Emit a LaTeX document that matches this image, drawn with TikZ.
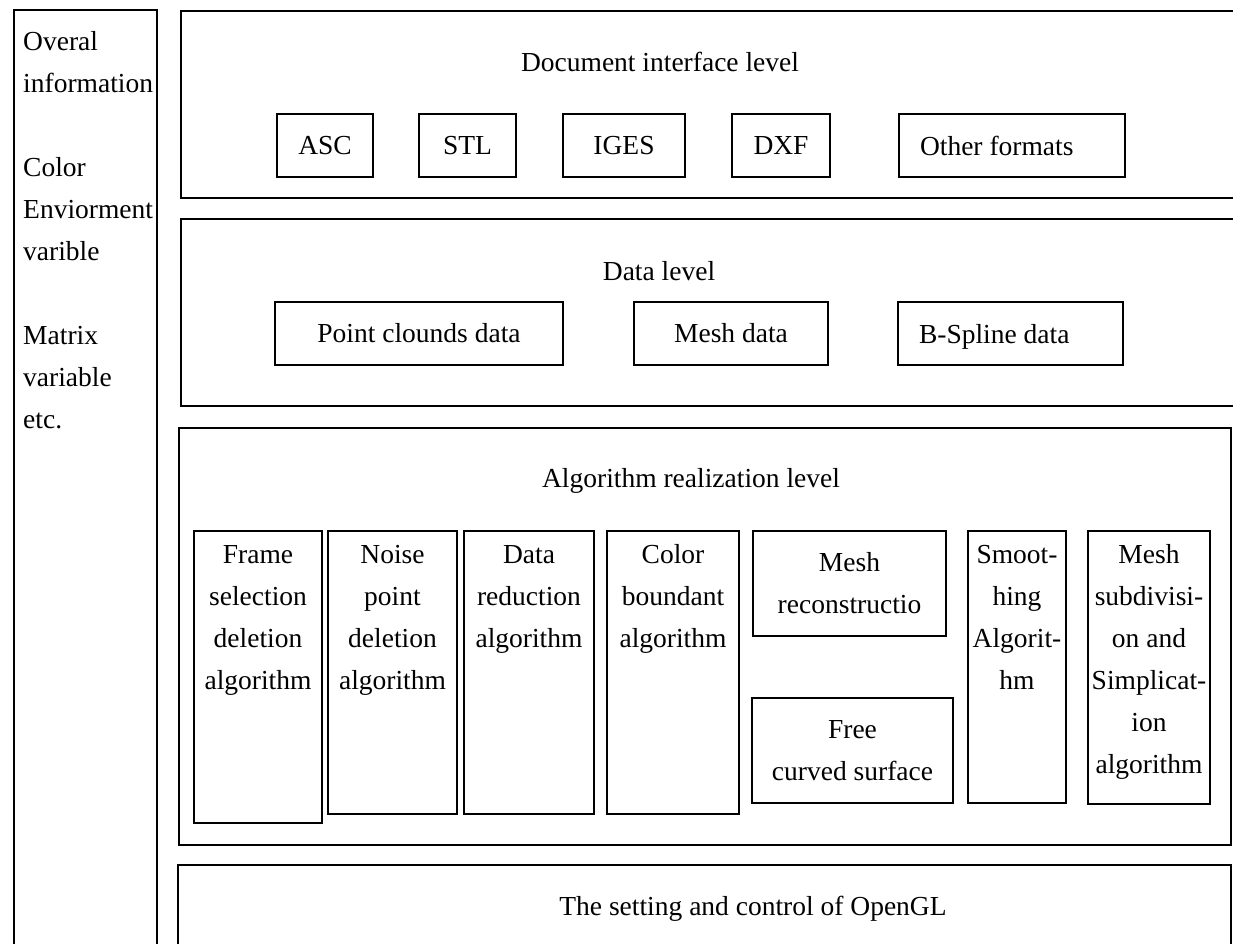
\documentclass[tikz,border=0pt]{standalone}
\usepackage{fontspec}
\setmainfont{Liberation Serif}
\newcommand{\fstrut}{\rule{0pt}{20pt}}
\begin{document}
\begin{tikzpicture}[x=1pt,y=-1pt,
  every node/.style={font=\fontsize{27.5}{42}\selectfont},
  frame/.style={draw, line width=2pt},
  fbox/.style={draw, line width=2pt, inner sep=0pt, align=center},
  txt/.style={inner sep=0pt, align=center},
  toptxt/.style={inner sep=0pt, align=center, anchor=north}]
\useasboundingbox (0,0) rectangle (1233,944);
\fill[white] (0,0) rectangle (1233,944);
\clip (0,0) rectangle (1233,944);

% left column
\draw[frame] (14,10) rectangle (157,970);
\node[toptxt, align=left, anchor=north west] (info) at (23,30)
  {\fstrut Overal\\information\\[42pt]Color\\Enviorment\\varible\\[42pt]Matrix\\variable\\etc.};

% document interface level
\draw[frame] (181,11) rectangle (1250,198);
\node[txt, anchor=base] (doc) at (660,72) {Document interface level};
\node[fbox, minimum width=96, minimum height=63] (asc) at (325,145.5) {ASC};
\node[fbox, minimum width=97, minimum height=63] (stl) at (467.5,145.5) {STL};
\node[fbox, minimum width=122, minimum height=63] (iges) at (624,145.5) {IGES};
\node[fbox, minimum width=98, minimum height=63] (dxf) at (781,145.5) {DXF};
\node[fbox, inner xsep=21, minimum height=63] (other) at (1012,145.5) {\makebox[184pt][l]{Other formats}};

% data level
\draw[frame] (181,219) rectangle (1250,406);
\node[txt, anchor=base] (data) at (659,280) {Data level};
\node[fbox, minimum width=288, minimum height=63] (pcd) at (419,333.5) {Point clounds data};
\node[fbox, minimum width=194, minimum height=63] (mesh) at (731,333.5) {Mesh data};
\node[fbox, inner xsep=21, minimum height=63, text depth=0pt] (bsp) at (1010.5,333.5) {\makebox[183pt][l]{B-Spline data}};

% algorithm realization level
\draw[frame] (179,428) rectangle (1231,845);
\node[txt, anchor=base] (alg) at (691,487) {Algorithm realization level};
\node[fbox, minimum width=128, minimum height=292] (frm) at (258,677) {};
\node[toptxt] (frmt) at (258,543) {\fstrut Frame\\selection\\deletion\\algorithm};
\node[fbox, minimum width=129, minimum height=283] (noi) at (392.5,672.5) {};
\node[toptxt] (noit) at (392.5,543) {\fstrut Noise\\point\\deletion\\algorithm};
\node[fbox, minimum width=130, minimum height=283] (dr) at (529,672.5) {};
\node[toptxt] (drt) at (529,543) {\fstrut Data\\reduction\\algorithm};
\node[fbox, minimum width=132, minimum height=283] (cb) at (673,672.5) {};
\node[toptxt] (cbt) at (673,543) {\fstrut Color\\boundant\\algorithm};
\node[fbox, minimum width=193, minimum height=105] (mr) at (849.5,583.5) {Mesh\\reconstructio};
\node[fbox, minimum width=201, minimum height=105] (fcs) at (852.5,750.5) {Free\\curved surface};
\node[fbox, minimum width=98, minimum height=272] (sm) at (1017,667) {};
\node[toptxt] (smt) at (1017,543) {\fstrut Smoot-\\hing\\Algorit-\\hm};
\node[fbox, minimum width=122, minimum height=273] (ms) at (1149,667.5) {};
\node[toptxt] (mst) at (1149,543) {\fstrut Mesh\\subdivisi-\\on and\\Simplicat-\\ion\\algorithm};

% OpenGL level
\draw[frame] (178,865) rectangle (1231,970);
\node[txt, anchor=base] (gl) at (753,915) {The setting and control of OpenGL};
\end{tikzpicture}
\end{document}
